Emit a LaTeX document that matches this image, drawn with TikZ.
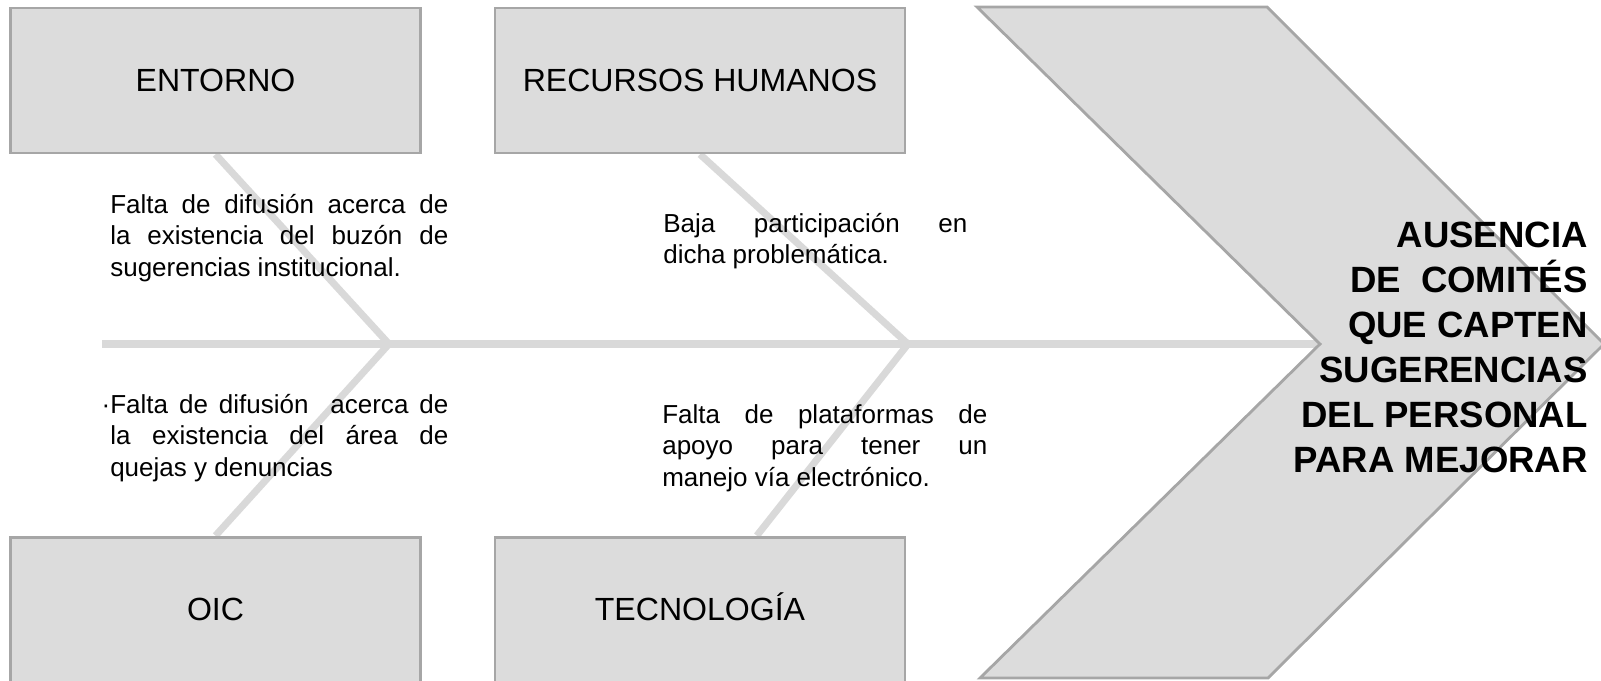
\documentclass[tikz,border=0pt]{standalone}
\usepackage{fontspec}
\setmainfont{Liberation Sans}
\usepackage{tikz}
\usetikzlibrary{positioning,backgrounds}
\definecolor{boxgray}{RGB}{220,220,220}
\definecolor{edgegray}{RGB}{166,166,166}
\definecolor{bonegray}{RGB}{217,217,217}
\tikzset{
  causebox/.style={draw=edgegray, fill=boxgray, line width=2pt,
    minimum width=10.25cm, minimum height=3.62cm, inner sep=0pt,
    text height=16.3pt, text depth=0pt,
    font=\fontsize{22.8}{27}\selectfont},
  bone/.style={draw=bonegray, line width=5pt},
  causetext/.style={anchor=base west, inner sep=0pt, align=justify,
    font=\fontsize{18.5}{22.5}\selectfont}
}

\begin{document}
\begin{tikzpicture}[x=0.025cm, y=-0.025cm]
  \useasboundingbox (0,0) rectangle (1601,680);
  % causas
  \node[causebox] (entorno) at (215.5,80.5) {ENTORNO};
  \node[causebox] (rrhh) at (700,80.5) {RECURSOS HUMANOS};
  \node[causebox] (oic) at (215.5,609.5) {OIC};
  \node[causebox] (tecno) at (700,609.5) {TECNOLOGÍA};
  % espina
  \coordinate (tail) at (102,344);
  \coordinate (notch) at (1320,344);
  \coordinate (j1) at (389,344);
  \coordinate (j2) at (908,344);
  \begin{scope}[on background layer]
    \draw[bone] (tail) -- (notch);
    \draw[bone] (entorno.south) -- (j1) -- (oic.north);
    \draw[bone] (rrhh.south) -- (j2) -- ([xshift=1.42cm]tecno.north);
  \end{scope}
  % efecto
  \draw[draw=edgegray, fill=boxgray, line width=2pt]
    (977,7) -- (1267,7) -- (1604,344) -- (1268,678) -- (980,678) -- (notch) -- cycle;
  \node[anchor=base east, align=right, inner sep=0pt,
        font=\bfseries\fontsize{26}{32}\selectfont] (efecto) at (1588,472)
    {AUSENCIA\\DE\ \ COMITÉS\\QUE CAPTEN\\SUGERENCIAS\\DEL PERSONAL\\PARA MEJORAR};
  % textos
  \node[causetext, text width=8.45cm] (t1) at (110,213)
    {Falta de difusión acerca de\linebreak la existencia del buzón de\linebreak sugerencias institucional.};
  \node[causetext, text width=8.45cm] (t2) at (110,413)
    {\llap{·}Falta de difusión\ \ acerca de\linebreak la existencia del área de\linebreak quejas y denuncias};
  \node[causetext, text width=7.6cm] (t3) at (663,232)
    {Baja participación en\linebreak dicha problemática.};
  \node[causetext, text width=8.125cm] (t4) at (662,423)
    {Falta de plataformas de\linebreak apoyo para tener un\linebreak manejo vía electrónico.};
\end{tikzpicture}
\end{document}
